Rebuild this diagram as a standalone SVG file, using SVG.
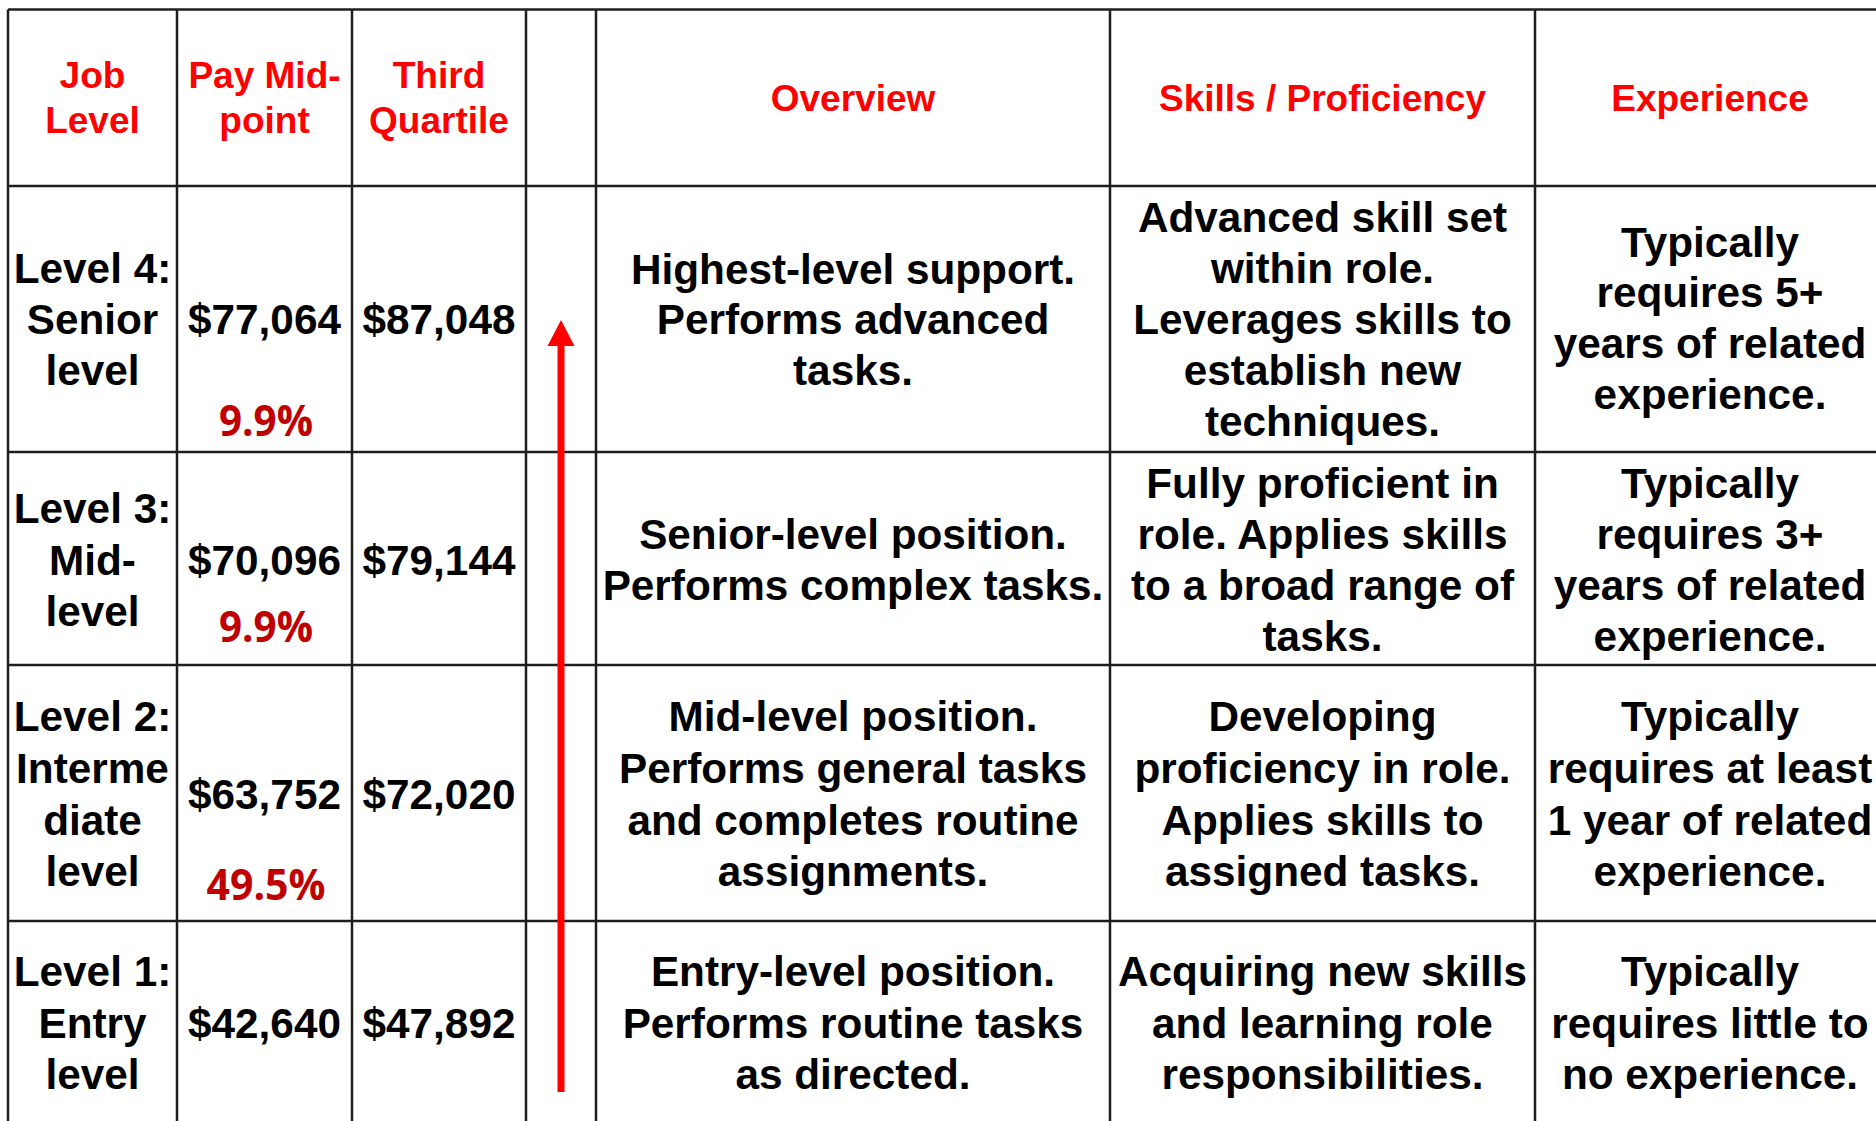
<svg xmlns="http://www.w3.org/2000/svg" width="1876" height="1121" viewBox="0 0 1876 1121">
<defs>
<style>
.grid{stroke:#1e1e1e;stroke-width:2.5;fill:none}
.hdr{font-family:"Liberation Sans",Arial,sans-serif;font-weight:bold;font-size:37px;fill:#FF0000;text-anchor:middle}
.t{font-family:"Liberation Sans",Arial,sans-serif;font-weight:bold;font-size:42.3px;fill:#000;text-anchor:middle}
.pct{font-family:"Open Sans","DejaVu Sans",sans-serif;font-weight:bold;font-size:43px;fill:#C00000;text-anchor:middle}
</style>
</defs>
<rect x="0" y="0" width="1876" height="1121" fill="#fff"/>
<g id="grid" class="grid">
<line x1="8" y1="9.5" x2="1876" y2="9.5"/>
<line x1="8" y1="186" x2="1876" y2="186"/>
<line x1="8" y1="452" x2="1876" y2="452"/>
<line x1="8" y1="665" x2="1876" y2="665"/>
<line x1="8" y1="921" x2="1876" y2="921"/>
<line x1="8" y1="9.5" x2="8" y2="1121"/>
<line x1="177" y1="9.5" x2="177" y2="1121"/>
<line x1="352" y1="9.5" x2="352" y2="1121"/>
<line x1="526" y1="9.5" x2="526" y2="1121"/>
<line x1="596" y1="9.5" x2="596" y2="1121"/>
<line x1="1110" y1="9.5" x2="1110" y2="1121"/>
<line x1="1535" y1="9.5" x2="1535" y2="1121"/>
</g>
<g id="header">
<text class="hdr" x="92.5" y="88">Job</text>
<text class="hdr" x="92.5" y="133">Level</text>
<text class="hdr" x="264.5" y="88">Pay Mid-</text>
<text class="hdr" x="264.5" y="133">point</text>
<text class="hdr" x="439" y="88">Third</text>
<text class="hdr" x="439" y="133">Quartile</text>
<text class="hdr" x="853" y="111">Overview</text>
<text class="hdr" x="1322.5" y="111">Skills / Proficiency</text>
<text class="hdr" x="1710" y="111">Experience</text>
</g>
<g id="level4">
<text class="t" x="92.5" y="283">Level 4:</text>
<text class="t" x="92.5" y="334">Senior</text>
<text class="t" x="92.5" y="385">level</text>
<text class="t" x="264.5" y="334">$77,064</text>
<text class="pct" x="266" y="436" textLength="94" lengthAdjust="spacingAndGlyphs">9.9%</text>
<text class="t" x="439" y="334">$87,048</text>
<text class="t" x="853" y="284">Highest-level support.</text>
<text class="t" x="853" y="334">Performs advanced</text>
<text class="t" x="853" y="385">tasks.</text>
<text class="t" x="1322.5" y="232">Advanced skill set</text>
<text class="t" x="1322.5" y="283">within role.</text>
<text class="t" x="1322.5" y="334">Leverages skills to</text>
<text class="t" x="1322.5" y="385">establish new</text>
<text class="t" x="1322.5" y="436">techniques.</text>
<text class="t" x="1710" y="257">Typically</text>
<text class="t" x="1710" y="307">requires 5+</text>
<text class="t" x="1710" y="358">years of related</text>
<text class="t" x="1710" y="409">experience.</text>
</g>
<g id="level3">
<text class="t" x="92.5" y="523">Level 3:</text>
<text class="t" x="92.5" y="575">Mid-</text>
<text class="t" x="92.5" y="626">level</text>
<text class="t" x="264.5" y="575">$70,096</text>
<text class="pct" x="266" y="642" textLength="94" lengthAdjust="spacingAndGlyphs">9.9%</text>
<text class="t" x="439" y="575">$79,144</text>
<text class="t" x="853" y="549">Senior-level position.</text>
<text class="t" x="853" y="600">Performs complex tasks.</text>
<text class="t" x="1322.5" y="498">Fully proficient in</text>
<text class="t" x="1322.5" y="549">role. Applies skills</text>
<text class="t" x="1322.5" y="600">to a broad range of</text>
<text class="t" x="1322.5" y="651">tasks.</text>
<text class="t" x="1710" y="498">Typically</text>
<text class="t" x="1710" y="549">requires 3+</text>
<text class="t" x="1710" y="600">years of related</text>
<text class="t" x="1710" y="651">experience.</text>
</g>
<g id="level2">
<text class="t" x="92.5" y="731">Level 2:</text>
<text class="t" x="92.5" y="783">Interme</text>
<text class="t" x="92.5" y="835">diate</text>
<text class="t" x="92.5" y="886">level</text>
<text class="t" x="264.5" y="809">$63,752</text>
<text class="pct" x="266" y="900" textLength="119" lengthAdjust="spacingAndGlyphs">49.5%</text>
<text class="t" x="439" y="809">$72,020</text>
<text class="t" x="853" y="731">Mid-level position.</text>
<text class="t" x="853" y="783">Performs general tasks</text>
<text class="t" x="853" y="835">and completes routine</text>
<text class="t" x="853" y="886">assignments.</text>
<text class="t" x="1322.5" y="731">Developing</text>
<text class="t" x="1322.5" y="783">proficiency in role.</text>
<text class="t" x="1322.5" y="835">Applies skills to</text>
<text class="t" x="1322.5" y="886">assigned tasks.</text>
<text class="t" x="1710" y="731">Typically</text>
<text class="t" x="1710" y="783">requires at least</text>
<text class="t" x="1710" y="835">1 year of related</text>
<text class="t" x="1710" y="886">experience.</text>
</g>
<g id="level1">
<text class="t" x="92.5" y="986">Level 1:</text>
<text class="t" x="92.5" y="1038">Entry</text>
<text class="t" x="92.5" y="1089">level</text>
<text class="t" x="264.5" y="1038">$42,640</text>
<text class="t" x="439" y="1038">$47,892</text>
<text class="t" x="853" y="986">Entry-level position.</text>
<text class="t" x="853" y="1038">Performs routine tasks</text>
<text class="t" x="853" y="1089">as directed.</text>
<text class="t" x="1322.5" y="986">Acquiring new skills</text>
<text class="t" x="1322.5" y="1038">and learning role</text>
<text class="t" x="1322.5" y="1089">responsibilities.</text>
<text class="t" x="1710" y="986">Typically</text>
<text class="t" x="1710" y="1038">requires little to</text>
<text class="t" x="1710" y="1089">no experience.</text>
</g>
<g id="connectors">
<line x1="561" y1="1092" x2="561" y2="344" stroke="#FF0000" stroke-width="7"/>
<polygon points="561,320 574.5,346 547.5,346" fill="#FF0000"/>
</g>
</svg>
